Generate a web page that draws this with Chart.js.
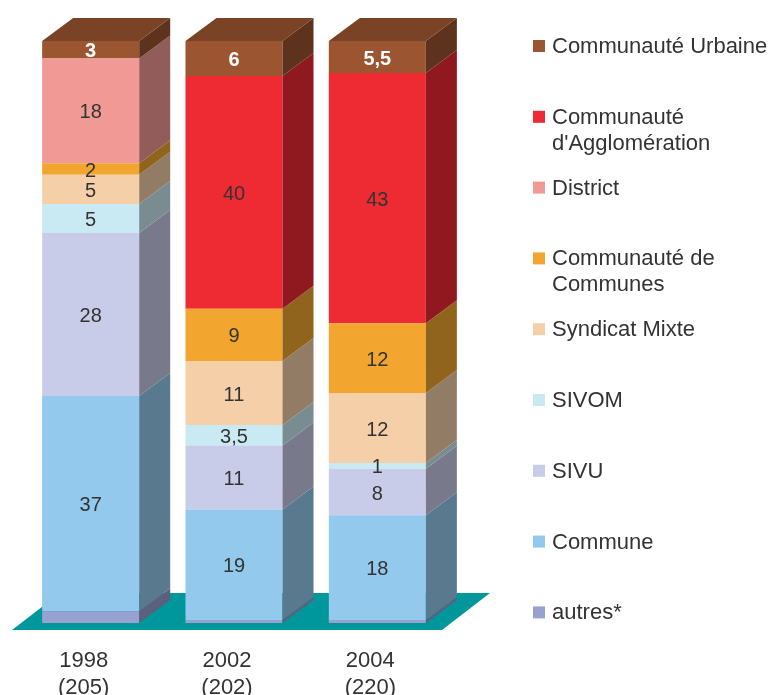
<!DOCTYPE html>
<html>
<head>
<meta charset="utf-8">
<script src="https://cdn.jsdelivr.net/npm/chart.js@4/dist/chart.umd.min.js"></script>
<style>
  html, body { margin: 0; padding: 0; background: #ffffff; }
  canvas { display: block; }
</style>
</head>
<body>
<canvas id="chart" width="769" height="695"></canvas>
<script>
// Years with number of structures in brackets
const years = [['1998', '(205)'], ['2002', '(202)'], ['2004', '(220)']];

// Series, stacked from the floor upwards (shares in %)
const seriesNames = [
  'autres*',
  'Commune',
  'SIVU',
  'SIVOM',
  'Syndicat Mixte',
  'Communauté de\nCommunes',
  'District',
  "Communauté\nd'Agglomération",
  'Communauté Urbaine'
];
const autres             = [2, 0.5, 0.5];
const commune            = [37, 19, 18];
const sivu               = [28, 11, 8];
const sivom              = [5, 3.5, 1];
const syndicatMixte      = [5, 11, 12];
const communauteCommunes = [2, 9, 12];
const district           = [18, 0, 0];
const communauteAgglo    = [0, 40, 43];
const communauteUrbaine  = [3, 6, 5.5];

const seriesValues = [autres, commune, sivu, sivom, syndicatMixte,
  communauteCommunes, district, communauteAgglo, communauteUrbaine];
const seriesColors = ['#98A2D0', '#92C9EC', '#C8CCE8', '#C9E9F3', '#F5CFA8',
  '#F2A630', '#F19A95', '#EE2A33', '#9B5530'];

const FONT = "'Liberation Sans', Arial, sans-serif";
const DX = 31, DY = 23;          // depth of the boxes
const FLOOR = '#00979C';

function shade(hex, f) {
  const n = parseInt(hex.slice(1), 16);
  const r = Math.round(((n >> 16) & 255) * f);
  const g = Math.round(((n >> 8) & 255) * f);
  const b = Math.round((n & 255) * f);
  return `rgb(${r},${g},${b})`;
}

const datasets = seriesNames.map((name, i) => ({
  label: name,
  data: seriesValues[i],
  backgroundColor: seriesColors[i],
  borderWidth: 0,
  barPercentage: 1,
  categoryPercentage: 0.677
}));

// Floor, box sides, box top, value labels and legend
const boxes3d = {
  id: 'boxes3d',
  beforeDatasetsDraw(chart) {
    const { ctx, chartArea: a } = chart;
    ctx.save();
    ctx.fillStyle = FLOOR;
    ctx.beginPath();
    ctx.moveTo(a.left - 7, a.bottom + 7);
    ctx.lineTo(a.right - 7, a.bottom + 7);
    ctx.lineTo(a.right + 41, a.bottom - 30);
    ctx.lineTo(a.left + 41, a.bottom - 30);
    ctx.closePath();
    ctx.fill();
    ctx.restore();
  },
  afterDatasetsDraw(chart) {
    const ctx = chart.ctx;
    const last = chart.data.datasets.length - 1;
    ctx.save();
    chart.data.datasets.forEach((ds, di) => {
      const meta = chart.getDatasetMeta(di);
      meta.data.forEach((bar, j) => {
        if (!ds.data[j]) return;
        const { x, y, base, width } = bar.getProps(['x', 'y', 'base', 'width'], true);
        const l = x - width / 2, r = x + width / 2;
        // side face
        ctx.fillStyle = shade(ds.backgroundColor, 0.6);
        ctx.beginPath();
        ctx.moveTo(r, y);
        ctx.lineTo(r + DX, y - DY);
        ctx.lineTo(r + DX, base - DY);
        ctx.lineTo(r, base);
        ctx.closePath();
        ctx.fill();
        // top face
        if (di === last) {
          ctx.fillStyle = shade(ds.backgroundColor, 0.79);
          ctx.beginPath();
          ctx.moveTo(l, y);
          ctx.lineTo(l + DX, y - DY);
          ctx.lineTo(r + DX, y - DY);
          ctx.lineTo(r, y);
          ctx.closePath();
          ctx.fill();
        }
      });
    });
    // value labels
    ctx.textAlign = 'center';
    ctx.textBaseline = 'middle';
    chart.data.datasets.forEach((ds, di) => {
      if (di === 0) return;
      const meta = chart.getDatasetMeta(di);
      meta.data.forEach((bar, j) => {
        const v = ds.data[j];
        if (!v) return;
        const { x, y, base } = bar.getProps(['x', 'y', 'base'], true);
        const top = di === last;
        ctx.fillStyle = top ? '#ffffff' : '#333333';
        ctx.font = (top ? 'bold ' : '') + '20px ' + FONT;
        ctx.fillText(String(v).replace('.', ','), x, (y + base) / 2 + 2);
      });
    });
    ctx.restore();
  },
  afterDraw(chart) {
    const ctx = chart.ctx;
    const items = chart.data.datasets.slice().reverse();
    ctx.save();
    ctx.font = '22px ' + FONT;
    ctx.textAlign = 'left';
    ctx.textBaseline = 'middle';
    items.forEach((ds, k) => {
      const cy = 46 + k * 70.8;
      ctx.fillStyle = ds.backgroundColor;
      ctx.fillRect(533, cy - 6, 12, 12);
      ctx.fillStyle = '#333333';
      ds.label.split('\n').forEach((line, li) => {
        ctx.fillText(line, 552, cy + 1 + li * 26);
      });
    });
    ctx.restore();
  }
};

new Chart(document.getElementById('chart'), {
  type: 'bar',
  data: { labels: years, datasets },
  options: {
    responsive: false,
    animation: false,
    layout: { padding: { left: 19, right: 320, top: 41, bottom: 0 } },
    plugins: { legend: { display: false }, tooltip: { enabled: false } },
    scales: {
      x: {
        stacked: true,
        grid: { display: false, drawTicks: false },
        border: { display: false },
        ticks: {
          color: '#333333',
          padding: 25,
          labelOffset: -7,
          font: { family: FONT, size: 22, lineHeight: 1.2 }
        },
        afterFit(scale) { scale.height = 72; }
      },
      y: {
        stacked: true,
        display: false,
        min: 0,
        max: 100
      }
    }
  },
  plugins: [boxes3d]
});
</script>
</body>
</html>
